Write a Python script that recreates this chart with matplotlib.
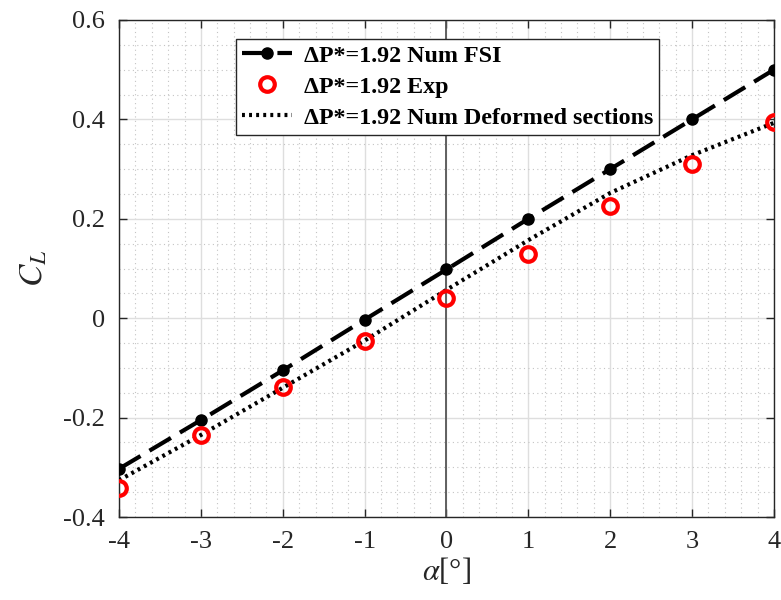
import numpy as np
import matplotlib
matplotlib.use('Agg')
import matplotlib.pyplot as plt
from matplotlib.ticker import MultipleLocator

plt.rcParams['font.family'] = ['Liberation Serif', 'DejaVu Serif']
plt.rcParams['mathtext.fontset'] = 'stix'
plt.rcParams['axes.unicode_minus'] = False

# data
alpha = [-4, -3, -2, -1, 0, 1, 2, 3, 4]
cl_fsi = [-0.303, -0.205, -0.105, -0.003, 0.098, 0.200, 0.300, 0.400, 0.500]
cl_exp = [-0.342, -0.235, -0.138, -0.045, 0.040, 0.130, 0.225, 0.310, 0.395]
cl_def = [-0.326, -0.235, -0.140, -0.045, 0.057, 0.157, 0.252, 0.328, 0.393]

xticks = [-4, -3, -2, -1, 0, 1, 2, 3, 4]
yticks = [-0.4, -0.2, 0, 0.2, 0.4, 0.6]
ytick_labels = ['-0.4', '-0.2', '0', '0.2', '0.4', '0.6']

label_fsi = '\u0394P*=1.92 Num FSI'
label_exp = '\u0394P*=1.92 Exp'
label_def = '\u0394P*=1.92 Num Deformed sections'

fig = plt.figure(figsize=(7.81, 6), dpi=100)
ax = fig.add_axes([0.1524, 0.1383, 0.8386, 0.8284])

# grid
ax.xaxis.set_minor_locator(MultipleLocator(0.2))
ax.yaxis.set_minor_locator(MultipleLocator(0.05))
ax.grid(which='major', color='#dedede', lw=1.0, ls='-', zorder=0)
ax.grid(which='minor', color='#c4c4c4', lw=0.8, ls=(0, (1, 3)), zorder=0)
ax.set_axisbelow(True)

ax.axvline(0, color='#555555', lw=1.3, zorder=1)

ax.plot(alpha, cl_fsi, color='black', lw=3, ls=(0, (6, 2.5)),
        marker='o', ms=8, label=label_fsi, zorder=3)
ax.plot(alpha, cl_exp, ls='none', marker='o', ms=10.5, mfc='none',
        mec='red', mew=3, label=label_exp, zorder=4)
ax.plot(alpha, cl_def, color='black', lw=3, ls=(0, (0.7, 1.0)),
        label=label_def, zorder=3)

ax.set_xlim(-4, 4)
ax.set_ylim(-0.4, 0.6)
ax.set_xticks(xticks)
ax.set_xticklabels([str(x) for x in xticks])
ax.set_yticks(yticks)
ax.set_yticklabels(ytick_labels)

ax.tick_params(which='major', direction='in', top=True, right=True,
               length=6, width=1, labelsize=19, colors='#262626', pad=10)
ax.tick_params(which='minor', length=0)
for s in ax.spines.values():
    s.set_color('#262626')
    s.set_linewidth(1.0)

ax.set_xlabel(r'$\alpha$[°]', fontsize=22, color='#262626', labelpad=2)
ax.set_ylabel(r'$C_L$', fontsize=24, color='#262626', labelpad=10)

leg = ax.legend(loc='upper left', bbox_to_anchor=(0.178, 0.962),
                prop={'weight': 'bold', 'size': 17.3}, frameon=True,
                fancybox=False, framealpha=1, edgecolor='#262626',
                handlelength=2.1, handletextpad=0.5, borderpad=0.25,
                labelspacing=0.38, borderaxespad=0)
leg.get_frame().set_linewidth(1.0)

fig.savefig('out.png', dpi=100)
